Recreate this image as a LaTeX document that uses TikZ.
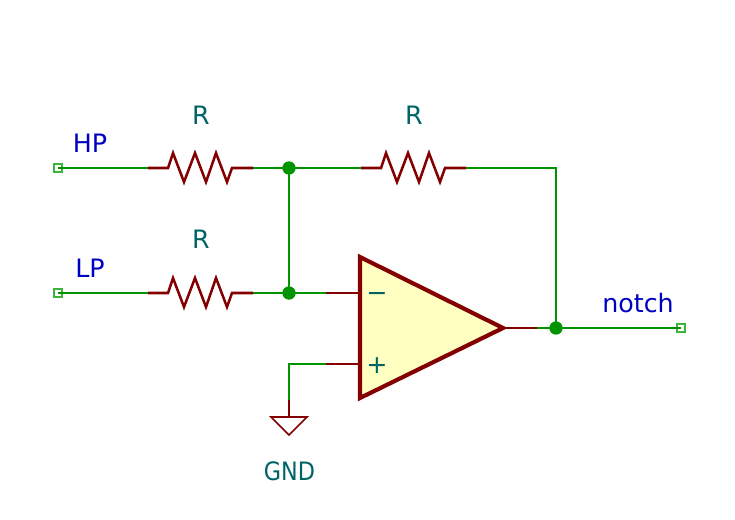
\documentclass[tikz,border=0pt]{standalone}
\usepackage{fontspec}
\setmainfont{DejaVu Sans}
\definecolor{wirec}{HTML}{009400}
\definecolor{partc}{HTML}{840000}
\definecolor{netc}{HTML}{0000C2}
\definecolor{refc}{HTML}{006464}
\definecolor{portc}{HTML}{3CB43C}
\definecolor{ampc}{HTML}{FFFFC2}
\tikzset{
  wire/.style={draw=wirec,line width=1.9pt},
  part/.style={draw=partc,line width=1.9pt,line join=miter},
  ampbody/.style={draw=partc,fill=ampc,line width=3.1pt,line join=miter},
  gndsym/.style={draw=partc,line width=1.2pt,line join=miter},
  junction/.style={circle,fill=wirec,inner sep=0pt,minimum size=10pt},
  port/.style={rectangle,draw=portc,line width=0.9pt,inner sep=0pt,minimum size=6pt},
  netlabel/.style={text=netc,font=\fontsize{19}{19}\selectfont,anchor=base,inner sep=0pt},
  reflabel/.style={text=refc,font=\fontsize{19}{19}\selectfont,anchor=base,inner sep=0pt}
}
\newcommand{\zigres}[1]{%
  \draw[part] (#1) -- ++(20,0) -- ++(5,-15) -- ++(11,29) -- ++(11,-29) -- ++(11,29) -- ++(10,-29) -- ++(11,29) -- ++(5,-14) -- ++(21,0);
}
\begin{document}
\begin{tikzpicture}[x=0.75pt,y=-0.75pt]
\useasboundingbox (0,0) rectangle (735,519);
% ports and junctions
\node[port] (hp) at (58,168) {};
\node[port] (lp) at (58,293) {};
\node[port] (out) at (681,328) {};
\coordinate (r1a) at (148,168); \coordinate (r1b) at (253,168);
\coordinate (r2a) at (361,168); \coordinate (r2b) at (466,168);
\coordinate (r3a) at (148,293); \coordinate (r3b) at (253,293);
\coordinate (jt) at (289,168);
\coordinate (jb) at (289,293);
\coordinate (jo) at (556,328);
\coordinate (corner) at (556,168);
\coordinate (minus) at (326,293);
\coordinate (minusin) at (360,293);
\coordinate (plus) at (326,364);
\coordinate (plusin) at (360,364);
\coordinate (plusc) at (289,364);
\coordinate (gndw) at (289,400);
\coordinate (gndt) at (289,417);
\coordinate (ampt) at (360,257);
\coordinate (ampb) at (360,398);
\coordinate (ampo) at (503,328);
\coordinate (outl) at (537,328);
% wires
\draw[wire] (hp.center) -- (r1a);
\draw[wire] (r1b) -- (r2a);
\draw[wire,line join=miter] (r2b) -- (corner) -- (jo);
\draw[wire] (lp.center) -- (r3a);
\draw[wire] (r3b) -- (minus);
\draw[wire] (jt) -- (jb);
\draw[wire] (outl) -- (out.center);
\draw[wire,line join=miter] (plus) -- (plusc) -- (gndw);
% parts
\zigres{r1a}
\zigres{r2a}
\zigres{r3a}
\draw[part] (minus) -- (minusin);
\draw[part] (plus) -- (plusin);
\draw[part] (ampo) -- (outl);
\draw[part] (gndw) -- (gndt);
\draw[ampbody] (ampt) -- (ampb) -- (ampo) -- cycle;
\draw[gndsym] (271,417) -- (307,417) -- (289,435) -- cycle;
% junctions
\node[junction] (j1) at (jt) {};
\node[junction] (j2) at (jb) {};
\node[junction] (j3) at (jo) {};
% labels
\node[netlabel] (lhp) at (90,152) {HP};
\node[netlabel] (llp) at (90,277) {LP};
\node[netlabel] (lnotch) at (638,312) {notch};
\node[reflabel] (lr1) at (201,124) {R};
\node[reflabel] (lr2) at (414,124) {R};
\node[reflabel] (lr3) at (201,248) {R};
\node[reflabel,xscale=0.88] (lgnd) at (289.5,480) {GND};
\node[reflabel] (lminus) at (377,301) {−};
\node[reflabel] (lplus) at (377,373) {+};
\end{tikzpicture}
\end{document}
